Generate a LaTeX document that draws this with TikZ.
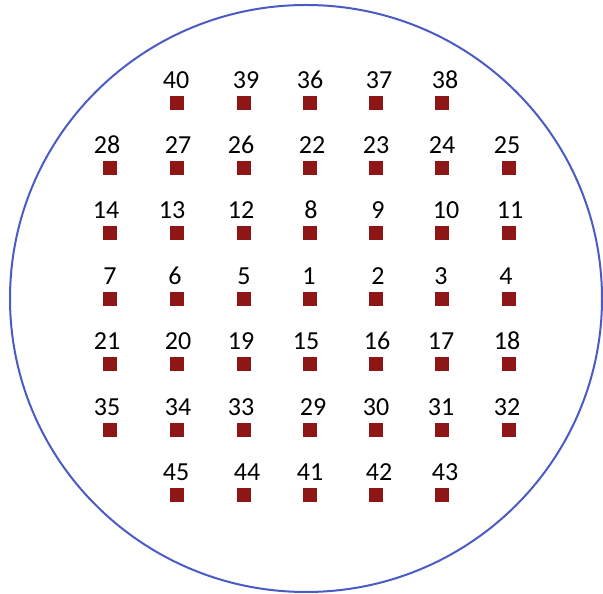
\documentclass[tikz,border=0pt]{standalone}
\usepackage{fontspec}
\setmainfont{Carlito}
\usepackage{xcolor}
\usetikzlibrary{positioning,shapes.geometric}

\definecolor{padred}{HTML}{8E1616}
\definecolor{ringblue}{HTML}{4A5BC4}

\begin{document}
\begin{tikzpicture}[
  x=1pt, y=1pt,
  pad/.style={draw=none, fill=padred, minimum size=14pt, inner sep=0pt},
  lbl/.style={inner sep=0pt, font=\fontsize{26}{31}\selectfont},
  ring/.style={draw=ringblue, line width=2pt}
]
\useasboundingbox (0,0) rectangle (603,594);
\node[ring, ellipse, minimum width=592pt, minimum height=587pt, inner sep=0pt] (wafer) at (306,295.5) {};

% pads: number / x / y / label shift
\foreach \num/\x/\y/\dx in {
  40/177/491/-1, 39/244/491/2, 36/310/491/0, 37/376/491/3, 38/442/491/3,
  28/110/426/-3, 27/177/426/1, 26/244/426/-3, 22/310/426/2, 23/376/426/0, 24/442/426/0, 25/509/426/-2,
  14/110/361/-4, 13/177/361/-5, 12/244/361/-3, 8/310/361/1, 9/376/361/2, 10/442/361/4, 11/509/361/1,
  7/110/295/0, 6/177/295/-2, 5/244/295/0, 1/310/295/-1, 2/376/295/2, 3/442/295/-1, 4/509/295/-3,
  21/110/230/-3, 20/177/230/1, 19/244/230/-3, 15/310/230/-4, 16/376/230/1, 17/442/230/-1, 18/509/230/-2,
  35/110/164/-3, 34/177/164/1, 33/244/164/-3, 29/310/164/3, 30/376/164/0, 31/442/164/-1, 32/509/164/-2,
  45/177/99/-1, 44/244/99/3, 41/310/99/0, 42/376/99/3, 43/442/99/3} {
  \node[pad] (p\num) at (\x,\y) {};
  \node[lbl, above=7pt of p\num, xshift=\dx pt] (n\num) {\num};
}
\end{tikzpicture}
\end{document}
